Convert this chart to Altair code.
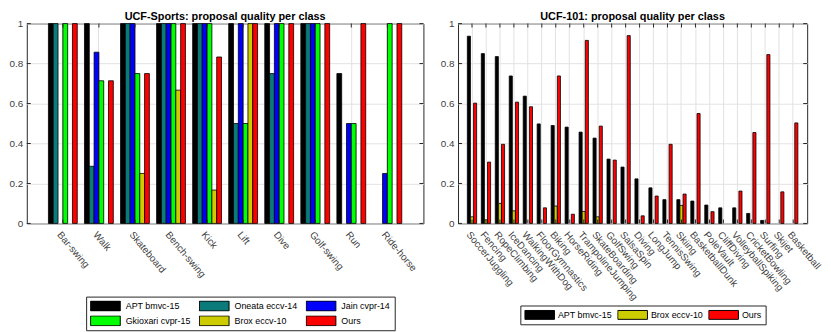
import altair as alt
import pandas as pd

# ---------------- data: UCF-Sports ----------------
sports_classes = ["Bar-swing", "Walk", "Skateboard", "Bench-swing", "Kick",
                  "Lift", "Dive", "Golf-swing", "Run", "Ride-horse"]
sports_methods = ["APT bmvc-15", "Oneata eccv-14", "Jain cvpr-14",
                  "Gkioxari cvpr-15", "Brox eccv-10", "Ours"]
sports_colors = ["#000000", "#0a7a7a", "#0000ff", "#00ff00", "#cccc00", "#ff0000"]
apt_sports = [1, 1, 1, 1, 1, 1, 1, 1, 0.75, 0]
oneata_sports = [1, 0.286, 1, 1, 1, 0.5, 0.75, 1, 0, 0]
jain_sports = [0, 0.857, 1, 1, 1, 1, 1, 1, 0.5, 0.25]
gkioxari_sports = [1, 0.714, 0.75, 1, 1, 0.5, 1, 1, 0.5, 1]
brox_sports = [0, 0, 0.25, 0.667, 0.167, 1, 0, 0, 0, 0]
ours_sports = [1, 0.714, 0.75, 1, 0.833, 1, 1, 1, 1, 1]

# ---------------- data: UCF-101 ----------------
ucf_classes = ["SoccerJuggling", "Fencing", "RopeClimbing", "IceDancing",
               "WalkingWithDog", "FloorGymnastics", "Biking", "HorseRiding",
               "TrampolineJumping", "SkateBoarding", "GolfSwing", "SalsaSpin",
               "Diving", "LongJump", "TennisSwing", "Skiing", "BasketballDunk",
               "PoleVault", "CliffDiving", "VolleyballSpiking", "CricketBowling",
               "Surfing", "Skijet", "Basketball"]
ucf_methods = ["APT bmvc-15", "Brox eccv-10", "Ours"]
ucf_colors = ["#000000", "#cccc00", "#ff0000"]
apt_ucf = [0.937, 0.85, 0.835, 0.738, 0.637, 0.498, 0.49, 0.482, 0.457, 0.427,
           0.322, 0.282, 0.223, 0.178, 0.119, 0.119, 0.112, 0.092, 0.078, 0.078,
           0.05, 0.015, 0, 0]
brox_ucf = [0.033, 0.018, 0.1, 0.063, 0, 0, 0.087, 0, 0.06, 0.033,
            0, 0, 0, 0, 0, 0.09, 0, 0, 0, 0,
            0, 0, 0, 0]
ours_ucf = [0.602, 0.307, 0.396, 0.607, 0.584, 0.078, 0.738, 0.046, 0.916, 0.487,
            0.317, 0.94, 0.038, 0.137, 0.396, 0.147, 0.55, 0.059, 0, 0.162,
            0.455, 0.845, 0.158, 0.503]

y_ticks = [0, 0.2, 0.4, 0.6, 0.8, 1]

FONT = "Liberation Sans"
TXT = "#404040"
GRID = "#e2e2e2"


def long_frame(classes, methods, series):
    rows = []
    for m, vals in zip(methods, series):
        for c, v in zip(classes, vals):
            rows.append({"cls": c, "method": m, "value": v})
    return pd.DataFrame(rows)


def panel(df, classes, methods, colors, title, width, height,
          lx, ly, cols, swatch_path, col_pad, lab_off):
    xscale = alt.Scale(domain=classes, paddingInner=0, paddingOuter=0.5)
    x = alt.X("cls:N", sort=classes, title=None, scale=xscale,
              axis=alt.Axis(labelAngle=50, labelAlign="left", labelBaseline="top",
                            ticks=False, domain=False, grid=True, bandPosition=0.5,
                            gridColor=GRID, labelPadding=6, labelFontSize=10,
                            labelFont=FONT, labelColor=TXT, labelOverlap=False))
    y = alt.Y("value:Q", title=None, scale=alt.Scale(domain=[0, 1], nice=False),
              axis=alt.Axis(values=y_ticks, format="~g", ticks=False, domain=False,
                            grid=True, gridColor=GRID, labelPadding=4,
                            labelFontSize=10, labelFont=FONT, labelColor=TXT))
    bars = alt.Chart(df).transform_filter("datum.value > 0").mark_bar(
        stroke="black", strokeWidth=0.8
    ).encode(
        x=x,
        xOffset=alt.XOffset("method:N", sort=methods,
                            scale=alt.Scale(domain=methods, paddingInner=0,
                                            paddingOuter=0.75)),
        y=y,
        color=alt.Color("method:N", sort=methods,
                        scale=alt.Scale(domain=methods, range=colors),
                        legend=alt.Legend(
                            title=None, orient="none", legendX=lx, legendY=ly,
                            columns=cols, direction="horizontal",
                            symbolType=swatch_path, symbolSize=900,
                            clipHeight=11, symbolOffset=0, labelOffset=lab_off,
                            symbolStrokeColor="black", symbolStrokeWidth=1,
                            labelFont=FONT, labelFontSize=9, labelColor="black",
                            strokeColor="#262626", fillColor="white", padding=4,
                            rowPadding=4, columnPadding=col_pad)),
    )
    cls_df = pd.DataFrame({"cls": classes})
    xt_bottom = alt.Chart(cls_df).mark_tick(
        orient="vertical", size=4, thickness=1, color="#262626", opacity=1
    ).encode(x=alt.X("cls:N", sort=classes, scale=xscale, title=None),
             y=alt.value(height - 2))
    xt_top = alt.Chart(cls_df).mark_tick(
        orient="vertical", size=4, thickness=1, color="#262626", opacity=1
    ).encode(x=alt.X("cls:N", sort=classes, scale=xscale, title=None),
             y=alt.value(2))
    yt_df = pd.DataFrame({"value": y_ticks})
    yt_left = alt.Chart(yt_df).mark_tick(
        orient="horizontal", size=4, thickness=1, color="#262626", opacity=1
    ).encode(y=alt.Y("value:Q", title=None), x=alt.value(2))
    yt_right = alt.Chart(yt_df).mark_tick(
        orient="horizontal", size=4, thickness=1, color="#262626", opacity=1
    ).encode(y=alt.Y("value:Q", title=None), x=alt.value(width - 2))
    return alt.layer(bars, xt_bottom, xt_top, yt_left, yt_right).properties(
        width=width, height=height,
        title=alt.TitleParams(title, fontSize=11, fontWeight="bold", font=FONT,
                              color="black", offset=-3, anchor="middle"),
    )


left = panel(
    long_frame(sports_classes, sports_methods,
               [apt_sports, oneata_sports, jain_sports, gkioxari_sports,
                brox_sports, ours_sports]),
    sports_classes, sports_methods, sports_colors,
    "UCF-Sports: proposal quality per class", 401, 202,
    60, 276, 3, "M-1,-0.333L1,-0.333L1,0.333L-1,0.333Z", 8, 5)

right = panel(
    long_frame(ucf_classes, ucf_methods, [apt_ucf, brox_ucf, ours_ucf]),
    ucf_classes, ucf_methods, ucf_colors,
    "UCF-101: proposal quality per class", 353, 202,
    63, 285, 3, "M-1,-0.3L1,-0.3L1,0.3L-1,0.3Z", 5, 3)

chart = alt.hconcat(left, right, spacing=15).resolve_scale(
    x="independent", y="independent", color="independent", xOffset="independent"
).resolve_legend(color="independent").properties(
    padding={"left": 0, "top": 0, "right": 0, "bottom": 0}
).configure_view(stroke="#262626", strokeWidth=1)

chart.save("out.html", embed_options={"renderer": "svg", "actions": False})
